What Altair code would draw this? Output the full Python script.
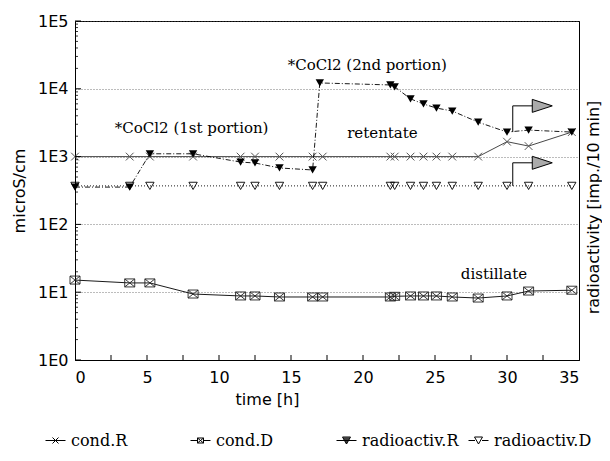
import altair as alt
import pandas as pd

# ---------------- data ----------------
series_names = ["cond.R", "cond.D", "radioactiv.R", "radioactiv.D"]

time_cond = [0.0, 3.8, 5.2, 8.2, 11.5, 12.5, 14.2, 16.5, 17.2, 21.9, 22.2, 23.3, 24.2, 25.1, 26.2, 28.0, 30.0, 31.5, 34.5]
cond_R = [1000, 1000, 1000, 1000, 1000, 1000, 1000, 1000, 1000, 1000, 1000, 1000, 1000, 1000, 1000, 1000, 1660, 1430, 2300]
cond_D = [15.1, 13.7, 13.7, 9.4, 8.8, 8.8, 8.5, 8.5, 8.5, 8.5, 8.7, 8.8, 8.8, 8.8, 8.5, 8.2, 8.8, 10.4, 10.7]

time_rad = [0.0, 3.8, 5.2, 8.2, 11.5, 12.5, 14.2, 16.5, 17.0, 21.9, 22.2, 23.3, 24.2, 25.1, 26.2, 28.0, 30.0, 31.5, 34.5]
rad_R = [355, 355, 1100, 1100, 830, 805, 680, 635, 12200, 11400, 10700, 7100, 5970, 5200, 4700, 3220, 2300, 2460, 2300]
rad_D = [370, 370, 370, 370, 370, 370, 370, 370, 370, 370, 370, 370, 370, 370, 370, 370, 370, 370, 370]

ann_text = ["*CoCl2 (1st portion)", "*CoCl2 (2nd portion)", "retentate", "distillate"]
ann_t = [8.1, 20.3, 21.35, 29.1]
ann_v = [2650, 22400, 2230, 18.5]

arrow_t = [30.4, 30.4, 31.8]
arrow_up_v = [2300, 5600, 5600]
arrow_lo_v = [370, 810, 810]
head_t = [32.45, 32.45]
head_v = [5600, 810]

x_tick_labels = [0, 5, 10, 15, 20, 25, 30, 35]
x_minor_ticks = [2.5, 5, 7.5, 10, 12.5, 15, 17.5, 20, 22.5, 25, 27.5, 30, 32.5]
y_decades = [1, 10, 100, 1000, 10000, 100000]
y_minor_ticks = [m * d for d in [1, 10, 100, 1000, 10000] for m in range(2, 10)]

# ---------------- frames ----------------
df_cR = pd.DataFrame({"t": time_cond, "v": cond_R})
df_cD = pd.DataFrame({"t": time_cond, "v": cond_D})
df_rR = pd.DataFrame({"t": time_rad, "v": rad_R})
df_rD = pd.DataFrame({"t": time_cond, "v": rad_D})
df_ann = pd.DataFrame({"t": ann_t, "v": ann_v, "label": ann_text})
df_arrow = pd.DataFrame({
    "t": arrow_t + arrow_t,
    "v": arrow_up_v + arrow_lo_v,
    "g": ["up"] * 3 + ["lo"] * 3,
    "i": [0, 1, 2, 0, 1, 2],
})
df_head = pd.DataFrame({"t": head_t, "v": head_v})
df_xt = pd.DataFrame({"t": x_minor_ticks})
df_ymin = pd.DataFrame({"v": y_minor_ticks})
df_ymaj = pd.DataFrame({"v": y_decades})

# ---------------- encodings ----------------
X = alt.X("t:Q",
          scale=alt.Scale(domain=[0, 35], nice=False, zero=False),
          axis=alt.Axis(values=x_tick_labels, tickSize=0, labelPadding=9, grid=False,
                        title="time [h]", titleX=192, titleY=31, titleBaseline="top",
                        domainColor="black"))
ysc = alt.Scale(type="log", domain=[1, 100000], nice=False)
YL = alt.Y("v:Q", scale=ysc,
           axis=alt.Axis(values=y_decades,
                         labelExpr="'1E' + format(log(datum.value)/LN10, '.0f')",
                         tickSize=0, labelPadding=7, grid=True, gridDash=[1, 2],
                         gridColor="#555", gridWidth=0.8, title="microS/cm",
                         titlePadding=10, domainColor="black"))
YR = alt.Y("v:Q", scale=ysc,
           axis=alt.Axis(orient="right", labels=False, ticks=False, grid=False,
                         title="radioactivity [imp./10 min]", titleAngle=270,
                         titleBaseline="top", titlePadding=6, titleY=186,
                         domainColor="black"))

PATH_X = "M-1,-1L1,1M-1,1L1,-1"
PATH_BOX = "M-1,-0.8H1V0.8H-1ZM-1,-0.8L1,0.8M-1,0.8L1,-0.8"
PATH_HEAD = "M-1,-0.65L1,0L-1,0.65Z"

leg_paths = [
    "M-1,0H1M-0.3,-0.3L0.3,0.3M-0.3,0.3L0.3,-0.3",
    "M-1,0H-0.3M0.3,0H1M-0.3,-0.25H0.3V0.25H-0.3ZM-0.3,-0.25L0.3,0.25M-0.3,0.25L0.3,-0.25",
    "M-1,0H1M-0.4,-0.35H0.4L0,0.35ZM-0.34,-0.25H0.34M-0.29,-0.15H0.29M-0.23,-0.05H0.23"
    "M-0.17,0.05H0.17M-0.11,0.15H0.11M-0.06,0.25H0.06",
    "M-1,0H-0.35M0.35,0H1M-0.4,-0.35H0.4L0,0.35Z",
]
leg_x = [-30, 115, 261, 393]   # legend entry offsets (px from plot left)

# ---------------- left (conductivity) layers ----------------
line_cR = alt.Chart(df_cR).mark_line(color="#333", strokeWidth=0.9).encode(x=X, y=YL)
line_cD = alt.Chart(df_cD).mark_line(color="black", strokeWidth=0.9).encode(x=X, y=YL)
pt_cR = alt.Chart(df_cR).mark_point(shape=PATH_X, size=60, color="#555", strokeWidth=1,
                                    filled=False, opacity=1).encode(x=X, y=YL)
pt_cD = alt.Chart(df_cD).mark_point(shape=PATH_BOX, size=100, color="#222", strokeWidth=0.9,
                                    filled=False, opacity=1).encode(x=X, y=YL)
xt = alt.Chart(df_xt).mark_rule(color="black", strokeWidth=1).encode(
    x=X, y=alt.value(339), y2=alt.value(334))
ymin = alt.Chart(df_ymin).mark_rule(color="black", strokeWidth=0.8).encode(
    y=YL, x=alt.value(0), x2=alt.value(3))
ymaj = alt.Chart(df_ymaj).mark_rule(color="black", strokeWidth=1).encode(
    y=YL, x=alt.value(0), x2=alt.value(6))
ann = alt.Chart(df_ann).mark_text(font="DejaVu Serif", fontSize=15, color="black").encode(
    x=X, y=YL, text="label:N")

legend_layers = []
for name, path, lx in zip(series_names, leg_paths, leg_x):
    dfl = pd.DataFrame({"series": [name], "t": [0.0], "v": [0.001]})
    legend_layers.append(
        alt.Chart(dfl).mark_point(clip=True, filled=False, color="black", strokeWidth=1,
                                  opacity=1).encode(
            x=X, y=YL,
            shape=alt.Shape("series:N", scale=alt.Scale(domain=[name], range=[path]),
                            legend=alt.Legend(orient="none", legendX=lx, legendY=409,
                                              title=None)),
        )
    )

left = (alt.layer(line_cR, line_cD, pt_cR, pt_cD, xt, ymin, ymaj, ann, *legend_layers)
        .resolve_scale(shape="independent")
        .resolve_legend(shape="independent"))

# ---------------- right (radioactivity) layers ----------------
line_rR = alt.Chart(df_rR).mark_line(color="black", strokeWidth=0.9,
                                     strokeDash=[5, 2, 1, 2]).encode(x=X, y=YR)
line_rD = alt.Chart(df_rD).mark_line(color="black", strokeWidth=0.9,
                                     strokeDash=[1, 2]).encode(x=X, y=YR)
pt_rR = alt.Chart(df_rR).mark_point(shape="triangle-down", size=70, filled=True,
                                    color="black", opacity=1).encode(x=X, y=YR)
pt_rD = alt.Chart(df_rD).mark_point(shape="triangle-down", size=70, filled=False,
                                    color="black", strokeWidth=0.9, opacity=1).encode(x=X, y=YR)
arrows = alt.Chart(df_arrow).mark_line(color="black", strokeWidth=1).encode(
    x=X, y=YR, detail="g:N", order="i:Q")
heads = alt.Chart(df_head).mark_point(shape=PATH_HEAD, size=400, filled=True, fill="#aaa",
                                      stroke="black", strokeWidth=1, opacity=1).encode(x=X, y=YR)
right = alt.layer(line_rR, line_rD, pt_rR, pt_rD, arrows, heads)

chart = (
    alt.layer(left, right)
    .resolve_scale(y="independent")
    .properties(width=504, height=339,
                autosize=alt.AutoSizeParams(type="none"),
                padding={"left": 67, "top": 13, "right": 23, "bottom": 93})
    .configure_view(stroke="black", strokeWidth=1)
    .configure_axis(labelFont="DejaVu Sans", titleFont="DejaVu Sans", labelFontSize=16,
                    titleFontSize=16, titleFontWeight="normal", labelColor="black",
                    titleColor="black")
    .configure_legend(labelFont="DejaVu Serif", labelFontSize=16, labelColor="black",
                      symbolSize=400, labelOffset=5, padding=0,
                      symbolStrokeColor="black", symbolStrokeWidth=1,
                      symbolFillColor="transparent", labelLimit=400)
)

chart.save("out.html", embed_options={"renderer": "svg", "actions": False})
